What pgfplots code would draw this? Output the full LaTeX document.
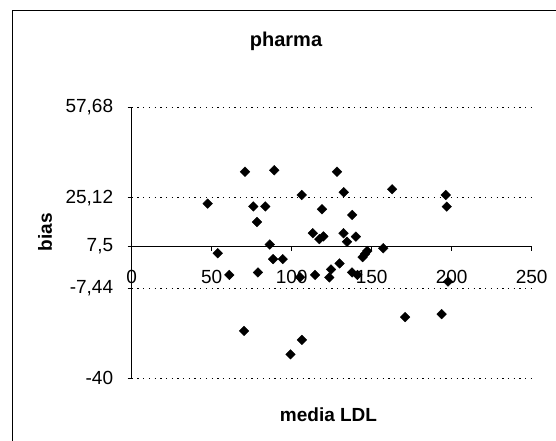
\documentclass[border=0pt]{standalone}
\usepackage{pgfplots}
\pgfplotsset{compat=1.18}
\usepackage{fontspec}
\setmainfont{Liberation Sans}
\pgfplotstableread{
x y
47.5 23.0
53.75 5.11
61.0 -2.71
70.8 34.5
70.2 -22.9
76.0 21.99
78.3 16.4
78.9 -1.81
83.5 21.99
86.3 8.25
89.1 35.04
88.4 2.99
94.4 2.99
99.25 -31.37
105.2 -3.54
106.25 26.13
106.4 -26.14
113.2 12.33
114.6 -2.71
117.25 10.2
119.8 11.17
118.9 20.98
123.5 -3.61
124.6 -0.73
128.3 34.5
129.9 1.44
132.5 27.11
132.4 12.33
134.6 9.26
137.8 18.92
137.7 -1.81
140.1 11.1
141.1 -2.71
144.3 3.71
145.8 4.86
147.25 5.94
157.2 6.92
162.75 28.19
170.9 -17.92
193.7 -16.84
196.3 26.13
196.9 21.92
197.7 -5.12
}\datatable
\begin{document}
\begin{tikzpicture}[x=1pt,y=1pt]
\useasboundingbox (0,0) rectangle (556,441);
\begin{scope}
\clip (0,0) rectangle (556,441);
\draw[line width=1.3pt] (12.5,-20) -- (12.5,430.3) -- (580,430.3);
\end{scope}
\begin{axis}[
  at={(131.7pt,62.7pt)}, anchor=south west,
  scale only axis, width=400pt, height=270.8pt,
  xmin=0, xmax=250, ymin=-40, ymax=57.68,
  clip=false,
  axis lines=left,
  axis line style={-, line width=1.3pt, black},
  x axis line style={draw=none},
  tick align=outside,
  major tick length=4pt,
  xtick={0,50,100,150,200,250},
  xticklabels={0,50,100,150,200,250},
  xtick style={draw=none},
  ytick={-40,-7.44,7.5,25.12,57.68},
  yticklabels={{-40},{-7,44},{7,5},{25,12},{57,68}},
  ytick style={line width=1pt, black},
  ymajorgrids,
  grid style={black, line width=0.9pt, dash pattern=on 1.3pt off 4.4pt},
  tick label style={font=\fontsize{19}{19}\selectfont},
  xticklabel style={anchor=center, inner sep=0pt, yshift=105.6pt},
  yticklabel style={anchor=east, inner sep=0pt, xshift=-14.4pt},
]
\draw[line width=1.3pt, black] (axis cs:0,7.5) -- (axis cs:250,7.5);
\pgfplotsinvokeforeach{50,100,150,200,250}{
  \draw[line width=1pt, black] (axis cs:#1,7.5) -- ([yshift=-4pt]axis cs:#1,7.5);
}
\addplot[only marks, mark=square*, mark size=3.4pt,
  mark options={rotate=45, fill=black, draw=black}] table[x=x,y=y] {\datatable};
\end{axis}
\node[font=\bfseries\fontsize{20}{20}\selectfont, anchor=base] at (286,394.3) {pharma};
\node[font=\bfseries\fontsize{19}{19}\selectfont, rotate=90, anchor=center] at (45,209) {bias};
\node[font=\bfseries\fontsize{19}{19}\selectfont, anchor=center] at (328.5,26) {media LDL};
\end{tikzpicture}
\end{document}
